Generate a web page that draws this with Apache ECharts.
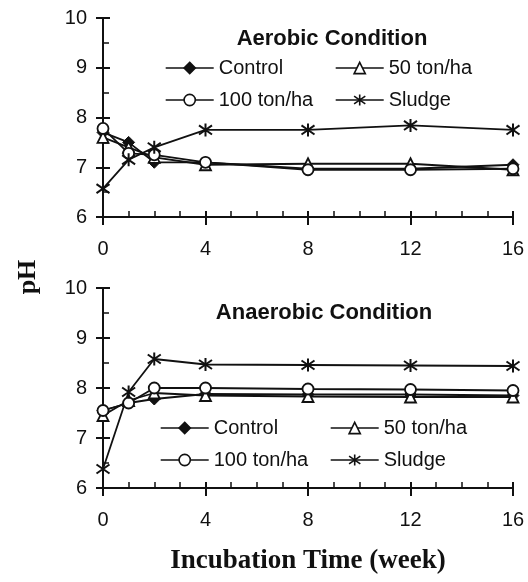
<!DOCTYPE html>
<html>
<head>
<meta charset="utf-8">
<script src="https://cdn.jsdelivr.net/npm/echarts@6/dist/echarts.min.js"></script>
<style>
html,body{margin:0;padding:0;background:#fff;}
#chart{width:528px;height:582px;}
</style>
</head>
<body>
<div id="chart"></div>
<script>
// ---- data ----
const weeks = [0, 1, 2, 4, 8, 12, 16];
const xTicks = [0, 4, 8, 12, 16];
const yTicks = [6, 7, 8, 9, 10];
const seriesNames = ['Control', '50 ton/ha', '100 ton/ha', 'Sludge'];
const panelTitles = ['Aerobic Condition', 'Anaerobic Condition'];
const xTitle = 'Incubation Time (week)';
const yTitle = 'pH';

// Aerobic condition
const aerobicControl = [7.7, 7.5, 7.1, 7.1, 6.97, 6.97, 7.05];
const aerobic50 = [7.6, 7.4, 7.2, 7.05, 7.07, 7.07, 6.95];
const aerobic100 = [7.78, 7.28, 7.25, 7.1, 6.95, 6.95, 6.97];
const aerobicSludge = [6.57, 7.15, 7.4, 7.75, 7.75, 7.84, 7.75];

// Anaerobic condition
const anaerobicControl = [7.55, 7.7, 7.78, 7.88, 7.87, 7.87, 7.85];
const anaerobic50 = [7.45, 7.75, 7.9, 7.85, 7.83, 7.82, 7.82];
const anaerobic100 = [7.55, 7.7, 8.0, 8.0, 7.98, 7.97, 7.95];
const anaerobicSludge = [6.38, 7.92, 8.58, 8.47, 8.46, 8.45, 8.44];

// ---- styling ----
const FONT = '"Liberation Sans", Arial, sans-serif';
const SERIF = '"Liberation Serif", "Times New Roman", serif';
const INK = '#111';
const asterisk = 'path://M5,0 L5,10 M0,1.5 L10,8.5 M0,8.5 L10,1.5';

const symbolDefs = [
  {symbol: 'diamond', symbolSize: 12, itemStyle: {color: INK, borderColor: INK, borderWidth: 1}},
  {symbol: 'triangle', symbolSize: 11, itemStyle: {color: '#fff', borderColor: INK, borderWidth: 1.8}},
  {symbol: 'circle', symbolSize: 11, itemStyle: {color: '#fff', borderColor: INK, borderWidth: 1.8}},
  {symbol: asterisk, symbolSize: 13, itemStyle: {color: INK, borderColor: INK, borderWidth: 2}}
];

const grids = [
  {left: 103, top: 18, width: 410, height: 199},
  {left: 103, top: 288, width: 410, height: 200}
];

const xAxes = [];
const yAxes = [];
grids.forEach((g, gi) => {
  xAxes.push({
    gridIndex: gi, type: 'value', position: 'bottom',
    min: xTicks[0], max: xTicks[xTicks.length - 1], interval: 4,
    axisLine: {show: true, lineStyle: {color: INK, width: 2}},
    axisTick: {show: true, inside: false, length: 8, lineStyle: {color: INK, width: 2}},
    axisLabel: {show: true, margin: 22, fontSize: 20, color: INK, fontFamily: FONT},
    splitLine: {show: false},
    name: gi === 1 ? xTitle : '',
    nameLocation: 'middle', nameGap: 60,
    nameTextStyle: {fontSize: 27, fontWeight: 'bold', fontFamily: SERIF, color: INK}
  });
  xAxes.push({
    gridIndex: gi, type: 'value', position: 'bottom',
    min: xTicks[0], max: xTicks[xTicks.length - 1], interval: 4,
    axisLine: {show: false},
    axisTick: {show: true, inside: true, length: 6, lineStyle: {color: INK, width: 2}},
    minorTick: {show: true, splitNumber: 4, length: 6, lineStyle: {color: INK, width: 1.5}},
    axisLabel: {show: false},
    splitLine: {show: false}
  });
  yAxes.push({
    gridIndex: gi, type: 'value', position: 'left',
    min: yTicks[0], max: yTicks[yTicks.length - 1], interval: 1,
    axisLine: {show: true, lineStyle: {color: INK, width: 2}},
    axisTick: {show: true, inside: false, length: 7, lineStyle: {color: INK, width: 2}},
    axisLabel: {show: true, margin: 16, fontSize: 20, color: INK, fontFamily: FONT},
    splitLine: {show: false}
  });
  yAxes.push({
    gridIndex: gi, type: 'value', position: 'left',
    min: yTicks[0], max: yTicks[yTicks.length - 1], interval: 1,
    axisLine: {show: false},
    axisTick: {show: true, inside: true, length: 7, lineStyle: {color: INK, width: 2}},
    minorTick: {show: true, splitNumber: 2, length: 6, lineStyle: {color: INK, width: 1.5}},
    axisLabel: {show: false},
    splitLine: {show: false}
  });
});

const panelData = [
  [aerobicControl, aerobic50, aerobic100, aerobicSludge],
  [anaerobicControl, anaerobic50, anaerobic100, anaerobicSludge]
];

const series = [];
panelData.forEach((sets, gi) => {
  sets.forEach((vals, si) => {
    const d = symbolDefs[si];
    series.push({
      name: seriesNames[si],
      type: 'line',
      xAxisIndex: gi * 2,
      yAxisIndex: gi * 2,
      data: weeks.map((w, i) => [w, vals[i]]),
      symbol: d.symbol,
      symbolSize: d.symbolSize,
      symbolKeepAspect: true,
      showAllSymbol: true,
      clip: false,
      animation: false,
      lineStyle: {color: INK, width: 1.8},
      itemStyle: d.itemStyle,
      emphasis: {disabled: true}
    });
  });
});

const legendPos = [
  [[165, 68], [335, 68], [165, 100], [335, 100]],
  [[160, 428], [330, 428], [160, 460], [330, 460]]
];
const legends = [];
legendPos.forEach((pos) => {
  pos.forEach((p, si) => {
    legends.push({
      data: [seriesNames[si]],
      left: p[0], top: p[1] - 10,
      padding: 0,
      itemWidth: 48, itemHeight: 14,
      selectedMode: false,
      textStyle: {fontSize: 20, color: INK, fontFamily: FONT, padding: [0, 0, 0, 0]},
      lineStyle: {width: 1.4, color: INK},
      itemStyle: {borderWidth: 1.6}
    });
  });
});

const option = {
  backgroundColor: '#fff',
  animation: false,
  grid: grids,
  xAxis: xAxes,
  yAxis: yAxes,
  legend: legends,
  series: series,
  graphic: [
    {type: 'text', x: 332, y: 39,
     style: {text: panelTitles[0], font: 'bold 22px ' + FONT, fill: INK, textAlign: 'center', textVerticalAlign: 'middle'}},
    {type: 'text', x: 324, y: 313,
     style: {text: panelTitles[1], font: 'bold 22px ' + FONT, fill: INK, textAlign: 'center', textVerticalAlign: 'middle'}},
    {type: 'text', x: 28, y: 277, rotation: Math.PI / 2,
     style: {text: yTitle, font: 'bold 26px ' + SERIF, fill: INK, textAlign: 'center', textVerticalAlign: 'middle'}}
  ]
};

const chart = echarts.init(document.getElementById('chart'), null, {renderer: 'canvas'});
chart.setOption(option);
</script>
</body>
</html>
